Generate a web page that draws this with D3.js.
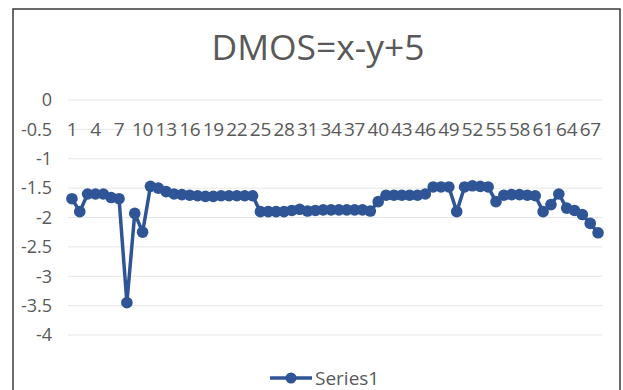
<!DOCTYPE html>
<html><head><meta charset="utf-8">
<script src="https://cdn.jsdelivr.net/npm/d3@7"></script>
<style>body{margin:0;background:#fff}svg{display:block}text{font-family:"Open Sans",sans-serif;fill:#595959}</style>
</head><body><svg id="c" width="623" height="390"></svg>
<script>
const title = "DMOS=x-y+5";
const seriesName = "Series1";
const categories = [1,2,3,4,5,6,7,8,9,10,11,12,13,14,15,16,17,18,19,20,21,22,23,24,25,26,27,28,29,30,31,32,33,34,35,36,37,38,39,40,41,42,43,44,45,46,47,48,49,50,51,52,53,54,55,56,57,58,59,60,61,62,63,64,65,66,67,68];
const values = [-1.68,-1.90,-1.60,-1.60,-1.60,-1.66,-1.68,-3.45,-1.93,-2.25,
  -1.47,-1.50,-1.56,-1.60,-1.61,-1.62,-1.63,-1.64,-1.64,-1.63,
  -1.63,-1.63,-1.63,-1.63,-1.90,-1.90,-1.90,-1.90,-1.88,-1.86,
  -1.89,-1.88,-1.87,-1.87,-1.87,-1.87,-1.87,-1.87,-1.89,-1.73,
  -1.62,-1.62,-1.62,-1.62,-1.62,-1.60,-1.48,-1.48,-1.48,-1.90,
  -1.48,-1.46,-1.47,-1.48,-1.73,-1.62,-1.61,-1.61,-1.62,-1.63,
  -1.90,-1.78,-1.60,-1.84,-1.88,-1.95,-2.10,-2.26];
const xTickLabels = [1,4,7,10,13,16,19,22,25,28,31,34,37,40,43,46,49,52,55,58,61,64,67];
const yTicks = [0,-0.5,-1,-1.5,-2,-2.5,-3,-3.5,-4];

const svg = d3.select("#c");
const color = "#2F5597";
svg.append("rect").attr("x",13).attr("y",9).attr("width",607).attr("height",400)
  .attr("fill","#fff").attr("stroke","#3a3a3a").attr("stroke-width",1.5);

const x = d3.scaleBand().domain(categories).range([68,602]).padding(0);
const y = d3.scaleLinear().domain([-4,0]).range([335,100]);
const cx = d => x(d) + x.bandwidth()/2;

// gridlines
svg.append("g").selectAll("line").data(yTicks).join("line")
  .attr("x1",68).attr("x2",602).attr("y1",d=>y(d)).attr("y2",d=>y(d))
  .attr("stroke","#e6e6e6").attr("stroke-width",1);

// y labels
svg.append("g").selectAll("text").data(yTicks).join("text")
  .attr("x",52).attr("y",d=>y(d)).attr("dy","0.35em").attr("text-anchor","end")
  .attr("font-size",18).text(d=>d);

// x labels
svg.append("g").selectAll("text").data(xTickLabels).join("text")
  .attr("x",d=>cx(d)).attr("y",y(-0.5)).attr("dy","0.35em").attr("text-anchor","middle")
  .attr("font-size",19).attr("letter-spacing",-0.3).text(d=>d);

// title
const t = svg.append("text").attr("x",318).attr("y",60).attr("text-anchor","middle")
  .attr("font-size",33).text(title);
const w = t.node().getComputedTextLength();
t.attr("font-size",33*213/w);

// line
const pts = categories.map((c,i)=>({c, v: values[i]}));
svg.append("path").datum(pts)
  .attr("d", d3.line().x(d=>cx(d.c)).y(d=>y(d.v)))
  .attr("fill","none").attr("stroke",color).attr("stroke-width",3.5).attr("stroke-linejoin","round");
svg.append("g").selectAll("circle").data(pts).join("circle")
  .attr("cx",d=>cx(d.c)).attr("cy",d=>y(d.v)).attr("r",5.8).attr("fill",color);

// legend
const lg = svg.append("g");
lg.append("line").attr("x1",270).attr("x2",312).attr("y1",378).attr("y2",378)
  .attr("stroke",color).attr("stroke-width",3.5);
lg.append("circle").attr("cx",291).attr("cy",378).attr("r",5.5).attr("fill",color);
lg.append("text").attr("x",315).attr("y",378).attr("dy","0.35em").attr("font-size",19).text(seriesName);
</script></body></html>
